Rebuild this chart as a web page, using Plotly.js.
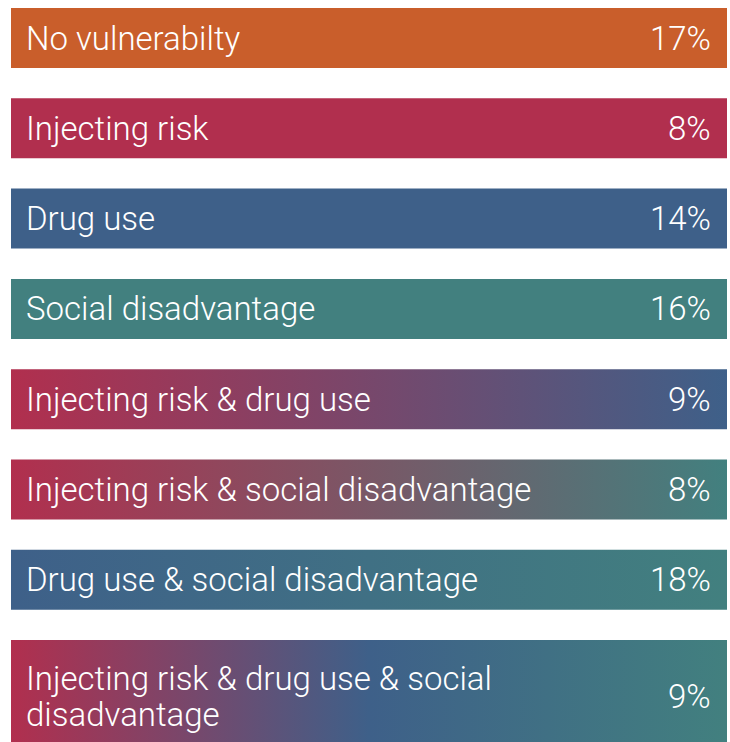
<!DOCTYPE html>
<html>
<head>
<meta charset="utf-8">
<script src="https://cdn.plot.ly/plotly-3.0.1.min.js"></script>
<style>html,body{margin:0;padding:0;background:#fff;}#chart{width:730px;height:742px;}</style>
</head>
<body>
<div id="chart"></div>
<script>
// ---- data ----
const categories = [
  "No vulnerabilty",
  "Injecting risk",
  "Drug use",
  "Social disadvantage",
  "Injecting risk & drug use",
  "Injecting risk & social disadvantage",
  "Drug use & social disadvantage",
  "Injecting risk & drug use & social<br>disadvantage"
];
const values = [17, 8, 14, 16, 9, 8, 18, 9];
const valueLabels = values.map(v => v + "%");

// ---- styles ----
const ORANGE = "#C95E2B", CRIMSON = "#B12F4E", BLUE = "#3E6089", TEAL = "#42807F";
const barColors = [
  [ORANGE],
  [CRIMSON],
  [BLUE],
  [TEAL],
  [CRIMSON, BLUE],
  [CRIMSON, TEAL],
  [BLUE, TEAL],
  [CRIMSON, BLUE, TEAL]
];

// layout geometry (pixel-like y units)
const H = 742, TOP = 8, GAP = 30.3, BAR_H = 60, EXTRA_LINE = 42, LINE_GAP = 36;

const traces = [];
const annotations = [];
const font = {family: "Roboto, 'Helvetica Neue', Arial, sans-serif", size: 33, color: "#ffffff", weight: 300};
let y = TOP;
categories.forEach((cat, i) => {
  const parts = cat.split("<br>");
  const lines = parts.length;
  const h = BAR_H + (lines - 1) * EXTRA_LINE;
  const top = y, bot = y + h;
  const cols = barColors[i];
  const tr = {
    type: "scatter", mode: "lines",
    x: [0, 1, 1, 0, 0],
    y: [top, top, bot, bot, top],
    fill: "toself",
    line: {width: 0},
    hoverinfo: "skip",
    showlegend: false
  };
  if (cols.length === 1) {
    tr.fillcolor = cols[0];
  } else {
    tr.fillgradient = {
      type: "horizontal",
      colorscale: cols.map((c, k) => [k / (cols.length - 1), c])
    };
  }
  traces.push(tr);
  const mid = (top + Math.min(bot, H)) / 2 + (lines > 1 ? 5 : 0);
  parts.forEach((p, k) => {
    annotations.push({
      x: 0, y: mid + (k - (lines - 1) / 2) * LINE_GAP, xref: "x", yref: "y", text: p, showarrow: false,
      xanchor: "left", yanchor: "middle", align: "left", xshift: 13, font: font
    });
  });
  annotations.push({
    x: 1, y: mid, xref: "x", yref: "y", text: valueLabels[i], showarrow: false,
    xanchor: "right", yanchor: "middle", align: "right", xshift: -14, font: font
  });
  y = bot + GAP;
});

const layout = {
  width: 730, height: 742,
  margin: {l: 11, r: 3, t: 0, b: 0, pad: 0},
  paper_bgcolor: "#ffffff", plot_bgcolor: "#ffffff",
  xaxis: {range: [0, 1], visible: false, fixedrange: true},
  yaxis: {range: [H, 0], visible: false, fixedrange: true},
  annotations: annotations,
  showlegend: false
};

Plotly.newPlot("chart", traces, layout, {displayModeBar: false, staticPlot: true});
</script>
</body>
</html>
